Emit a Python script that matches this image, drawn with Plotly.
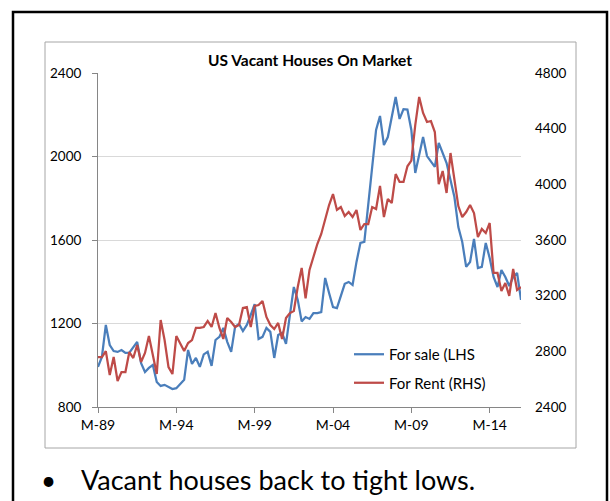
import plotly.graph_objects as go

# ---- data ----
months = ["M", "J", "S", "D"]
categories = [f"{m}-{(89 + y) % 100:02d}" for y in range(28) for m in months][:109]

for_sale = [992, 1040, 1193, 1097, 1068, 1064, 1073, 1059, 1060, 1088, 1112, 1010, 968, 987, 1001, 920,
            901, 906, 896, 886, 890, 910, 930, 1073, 1006, 1035, 992, 1052, 1064, 997, 1121, 1136,
            1179, 1112, 1064, 1184, 1198, 1164, 1193, 1241, 1293, 1126, 1136, 1179, 1160, 1035, 1145, 1155,
            1102, 1241, 1375, 1313, 1210, 1231, 1222, 1250, 1250, 1255, 1418, 1346, 1279, 1274, 1327, 1390,
            1399, 1385, 1495, 1586, 1591, 1782, 1969, 2127, 2194, 2055, 2093, 2189, 2285, 2180, 2227, 2225,
            2127, 1921, 2007, 2093, 2002, 1974, 1950, 2065, 2017, 1969, 1887, 1806, 1662, 1590, 1471, 1495,
            1605, 1466, 1471, 1586, 1514, 1423, 1375, 1456, 1423, 1380, 1423, 1442, 1313]

for_rent = [2759, 2759, 2802, 2630, 2759, 2587, 2651, 2651, 2795, 2752, 2845, 2723, 2788, 2910, 2773, 2637,
            3025, 2881, 2687, 2637, 2910, 2860, 2802, 2860, 2881, 2968, 2968, 2975, 3018, 2975, 3075, 2968,
            2889, 3039, 3011, 2975, 2989, 3111, 3118, 2975, 3126, 3133, 3162, 3047, 2989, 2960, 3004, 2889,
            3039, 3075, 3090, 3262, 3399, 3180, 3385, 3478, 3571, 3643, 3744, 3851, 3930, 3816, 3837, 3772,
            3801, 3765, 3816, 3672, 3715, 3715, 3837, 3823, 3988, 3765, 3895, 3866, 4074, 4017, 4017, 4130,
            4170, 4426, 4628, 4513, 4448, 4455, 4376, 4002, 4096, 3938, 4225, 4031, 3844, 3765, 3801, 3851,
            3794, 3621, 3679, 3650, 3722, 3363, 3363, 3234, 3291, 3198, 3392, 3241, 3262]

x_ticks = ["M-89", "M-94", "M-99", "M-04", "M-09", "M-14"]
left_ticks = [800, 1200, 1600, 2000, 2400]
right_ticks = [2400, 2800, 3200, 3600, 4000, 4400, 4800]

title = "US Vacant Houses On Market"
bullet_text = "Vacant houses back to tight lows."

# ---- layout geometry ----
W, H = 610, 501
L, R, T, B = 98, 521, 73, 407
FONT = "Lato, 'Open Sans', sans-serif"


def px(x):
    return (x - L) / (R - L)


def py(y):
    return (B - y) / (B - T)


fig = go.Figure()
fig.add_trace(go.Scatter(x=categories, y=for_sale, mode="lines", name="For sale (LHS",
                         line=dict(color="#4A7EBB", width=2.25), legendgroup="a"))
fig.add_trace(go.Scatter(x=categories, y=for_rent, mode="lines", name="For Rent (RHS)",
                         line=dict(color="#BE4B48", width=2.25), yaxis="y2", legendgroup="b"))

fig.update_layout(
    width=W, height=H,
    margin=dict(l=L, r=W - R, t=T, b=H - B, pad=0, autoexpand=False),
    paper_bgcolor="white", plot_bgcolor="white",
    font=dict(family=FONT, size=13, color="#000000"),
    showlegend=True,
    legend=dict(x=px(349), y=py(338), xanchor="left", yanchor="top",
                bgcolor="rgba(0,0,0,0)", font=dict(size=15, family=FONT),
                traceorder="grouped", tracegroupgap=6, itemwidth=30),
    xaxis=dict(type="category", range=[0, len(categories) - 1], automargin=False,
               tickmode="array", tickvals=x_ticks, ticktext=x_ticks,
               showgrid=False, showline=True, linecolor="#868686", linewidth=1,
               ticks="outside", ticklen=5, tickcolor="#868686",
               tickfont=dict(size=14), zeroline=False),
    yaxis=dict(range=[800, 2400], tickvals=left_ticks, showgrid=True, gridcolor="#D9D9D9",
               gridwidth=1, showline=True, linecolor="#868686", linewidth=1, automargin=False,
               ticks="outside", ticklen=5, tickcolor="#868686", zeroline=False,
               tickfont=dict(size=13.5), ticklabelstandoff=8),
    yaxis2=dict(range=[2400, 4800], tickvals=right_ticks, overlaying="y", side="right",
                showgrid=False, showline=False, ticks="", zeroline=False, automargin=False,
                tickfont=dict(size=13.5), ticklabelstandoff=13),
    shapes=[
        dict(type="rect", xref="paper", yref="paper", x0=px(45), x1=px(576), y0=py(448), y1=py(42),
             line=dict(color="#A6A6A6", width=1), layer="below"),
        dict(type="rect", xref="paper", yref="paper", x0=px(13), x1=px(607), y0=py(520), y1=py(12),
             line=dict(color="#000000", width=2.5), layer="below"),
    ],
    annotations=[
        dict(text="<b>" + title + "</b>", xref="paper", yref="paper", x=px(310), y=py(60),
             xanchor="center", yanchor="middle", showarrow=False, font=dict(size=15.5, family=FONT)),
        dict(text="•", xref="paper", yref="paper", x=px(48), y=py(480),
             xanchor="center", yanchor="middle", showarrow=False, font=dict(size=26, family=FONT)),
        dict(text=bullet_text, xref="paper", yref="paper", x=px(79), y=py(480),
             xanchor="left", yanchor="middle", showarrow=False, font=dict(size=27, family=FONT)),
    ],
)

fig.write_html("out.html", config={"displayModeBar": False},
               post_script="document.body.style.margin='0px';document.body.style.overflow='hidden';")
